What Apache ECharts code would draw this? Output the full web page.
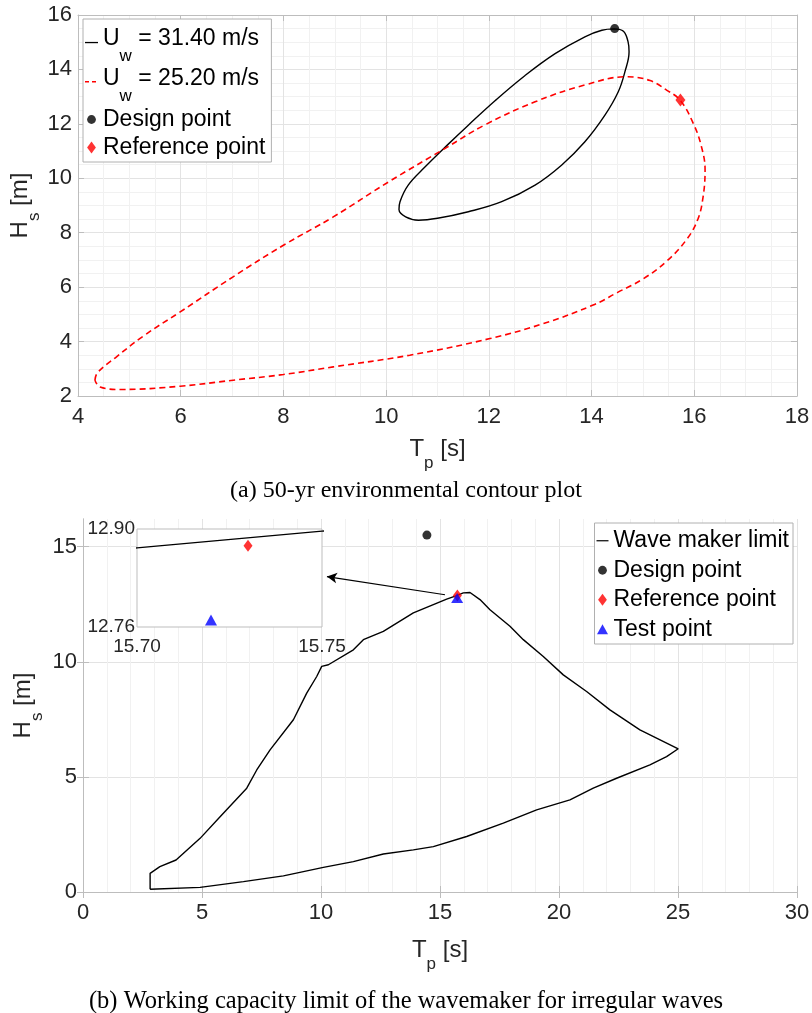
<!DOCTYPE html>
<html>
<head>
<meta charset="utf-8">
<script src="https://cdn.jsdelivr.net/npm/echarts@6/dist/echarts.min.js"></script>
<style>
  html, body { margin: 0; padding: 0; background: #fff; }
  #chart { width: 812px; height: 1013px; }
</style>
</head>
<body>
<div id="chart"></div>
<script>
// ---- (a) 50-yr environmental contours: peak period Tp [s] vs significant wave height Hs [m]
const contour3140T = [14.44, 14.62, 14.71, 14.73, 14.65, 14.52, 14.26, 13.87, 13.42, 12.90, 12.25, 11.60, 11.00, 10.63, 10.38, 10.25, 10.27, 10.43, 10.76, 11.18, 11.60, 12.12, 12.70, 13.29, 13.87, 14.20, 14.44];
const contour3140H = [15.49, 15.40, 15.02, 14.65, 13.92, 13.18, 12.32, 11.34, 10.49, 9.75, 9.14, 8.77, 8.53, 8.46, 8.58, 8.85, 9.14, 9.75, 10.42, 11.20, 11.95, 12.85, 13.77, 14.58, 15.20, 15.44, 15.49];

const contour2520T = [4.33, 4.38, 4.75, 5.27, 5.99, 7.02, 8.00, 8.97, 10.05, 11.15, 11.92, 12.90, 13.87, 14.68, 15.14, 15.46, 15.72, 15.98, 16.14, 16.21, 16.17, 16.07, 15.85, 15.46, 15.00, 14.50, 14.03, 13.06, 12.02, 10.46, 8.97, 8.00, 7.02, 5.99, 4.82, 4.43, 4.33];
const contour2520H = [2.58, 2.86, 3.44, 4.20, 5.09, 6.38, 7.54, 8.58, 9.87, 11.10, 11.96, 12.81, 13.43, 13.73, 13.59, 13.24, 12.88, 12.02, 11.16, 10.30, 9.30, 8.50, 7.75, 6.95, 6.30, 5.80, 5.34, 4.66, 4.11, 3.50, 3.07, 2.79, 2.58, 2.36, 2.24, 2.33, 2.58];

const designPoint = [14.45, 15.50];
const referencePoint = [15.73, 12.876];
const testPoint = [15.72, 12.77];

// ---- (b) wave maker working limit for irregular waves (closed outline)
const waveLimitT = [2.82, 2.82, 3.23, 3.91, 4.92, 5.76, 6.88, 7.30, 7.86, 8.84, 9.40, 9.82, 10.03, 10.31, 11.36, 11.78, 12.62, 13.88, 14.72, 15.28, 15.70, 15.75, 15.98, 16.26, 16.68, 17.10, 17.94, 18.50, 19.34, 20.18, 21.16, 22.14, 23.40, 25.01, 24.52, 23.82, 22.42, 21.44, 20.46, 19.06, 17.66, 16.12, 14.72, 13.88, 12.62, 11.36, 10.10, 8.42, 6.74, 4.92, 2.82];
const waveLimitH = [0.12, 0.81, 1.10, 1.39, 2.33, 3.27, 4.51, 5.30, 6.17, 7.48, 8.64, 9.36, 9.80, 9.87, 10.52, 10.96, 11.32, 12.12, 12.48, 12.72, 12.873, 12.897, 12.99, 13.01, 12.70, 12.26, 11.54, 10.96, 10.23, 9.43, 8.71, 7.91, 7.04, 6.22, 5.88, 5.52, 4.94, 4.51, 4.00, 3.57, 2.99, 2.41, 1.97, 1.83, 1.65, 1.32, 1.07, 0.70, 0.45, 0.20, 0.12];

// zoom-in window and the arrow pointing to it (data units of panel b)
const insetT = [15.70, 15.75];
const insetH = [12.76, 12.90];
const arrowFrom = [15.21, 12.91];
const arrowTo = [10.25, 13.70];

// axis ranges [min, max, interval]
const ticksTa = [4, 18, 2];
const ticksHa = [2, 16, 2];
const ticksTb = [0, 30, 5];
const ticksHb = [0, 16.2, 5];
const labelsHb = [0, 5, 10, 15];

const pairs = (xs, ys) => xs.map((x, i) => [x, ys[i]]);

const FONT = 'Liberation Sans, Arial, Helvetica, sans-serif';
const SERIF = '"Liberation Serif", "Times New Roman", serif';
const AXIS_COLOR = '#bdbdbd';
const TEXT_COLOR = '#262626';
const MAJOR = '#e3e3e3';
const MINOR = '#f1f1f1';

// legend glyphs; the corner moves fix the icon frame so shapes keep their drawn size
const framed = (d, w) => 'path://' + d + ' M0,0 L0,0 M' + w + ',12 L' + w + ',12';
const ICON_LINE_A = framed('M0,9.4 L13,9.4 L13,10.7 L0,10.7 Z', 13);
const ICON_DASH_A = framed('M0,8 L4,8 L4,9.5 L0,9.5 Z M7,8 L11,8 L11,9.5 L7,9.5 Z', 13);
const ICON_CIRCLE_A = framed('M2.1,6 A4.4,4.4 0 1,0 10.9,6 A4.4,4.4 0 1,0 2.1,6 Z', 13);
const ICON_DIAMOND_A = framed('M6.5,0 L10.9,6 L6.5,12 L2.1,6 Z', 13);
const ICON_LINE_B = framed('M0,5.4 L12,5.4 L12,6.6 L0,6.6 Z', 12);
const ICON_CIRCLE_B = framed('M1.6,6 A4.4,4.4 0 1,0 10.4,6 A4.4,4.4 0 1,0 1.6,6 Z', 12);
const ICON_DIAMOND_B = framed('M6,0 L10.4,6 L6,12 L1.6,6 Z', 12);
const ICON_TRIANGLE_B = framed('M0.5,11 L6,1 L11.5,11 Z', 12);

function mainAxis(gridIndex, range, pos, minorSplit, extra) {
  return Object.assign({
    type: 'value', gridIndex, position: pos,
    min: range[0], max: range[1], interval: range[2],
    axisLine: { show: true, lineStyle: { color: AXIS_COLOR, width: 1 } },
    axisTick: { show: true, inside: true, length: 6, lineStyle: { color: AXIS_COLOR } },
    axisLabel: { show: true, color: TEXT_COLOR, fontSize: 22, fontFamily: FONT, margin: 10 },
    splitLine: { show: true, lineStyle: { color: MAJOR, width: 1 } },
    minorTick: { show: false, splitNumber: minorSplit },
    minorSplitLine: { show: true, lineStyle: { color: MINOR, width: 1 } }
  }, extra || {});
}
function mirrorAxis(gridIndex, range, pos) {
  return {
    type: 'value', gridIndex, position: pos,
    min: range[0], max: range[1], interval: range[2],
    axisLine: { show: true, lineStyle: { color: AXIS_COLOR, width: 1 } },
    axisTick: { show: true, inside: true, length: 6, lineStyle: { color: AXIS_COLOR } },
    axisLabel: { show: false },
    splitLine: { show: false }
  };
}

const nameRich = {
  m: { fontSize: 24, fontFamily: FONT, color: TEXT_COLOR, lineHeight: 46, verticalAlign: 'middle' },
  s: { fontSize: 17, fontFamily: FONT, color: TEXT_COLOR, lineHeight: 17, verticalAlign: 'bottom' }
};
const legendRich = {
  m: { fontSize: 23, fontFamily: FONT, color: '#000', lineHeight: 52, verticalAlign: 'middle' },
  s: { fontSize: 17, fontFamily: FONT, color: '#000', lineHeight: 17, verticalAlign: 'bottom' }
};

const NAME_31 = 'Uw = 31.40 m/s';
const NAME_25 = 'Uw = 25.20 m/s';

const option = {
  animation: false,
  backgroundColor: '#ffffff',
  grid: [
    { left: 78, right: 15, top: 15, bottom: 617, containLabel: false, outerBoundsMode: 'none' },
    { left: 83, right: 15, top: 519, bottom: 121, containLabel: false, outerBoundsMode: 'none' },
    { left: 137, top: 529, width: 185, height: 98, show: true, backgroundColor: '#ffffff', borderColor: AXIS_COLOR, borderWidth: 1, z: 3, containLabel: false, outerBoundsMode: 'none' }
  ],
  xAxis: [
    mainAxis(0, ticksTa, 'bottom', 4, {
      name: '{m|T}{s|p}{m| [s]}', nameLocation: 'middle', nameGap: 30, nameMoveOverlap: false,
      nameTextStyle: { rich: nameRich }
    }),
    mirrorAxis(0, ticksTa, 'top'),
    mainAxis(1, ticksTb, 'bottom', 5, {
      name: '{m|T}{s|p}{m| [s]}', nameLocation: 'middle', nameGap: 35, nameMoveOverlap: false,
      nameTextStyle: { rich: nameRich }
    }),
    mirrorAxis(1, ticksTb, 'top'),
    {
      type: 'value', gridIndex: 2, min: insetT[0], max: insetT[1], position: 'bottom',
      axisLine: { show: false }, axisTick: { show: false }, splitLine: { show: false },
      axisLabel: { show: true, customValues: insetT, formatter: v => v.toFixed(2), color: TEXT_COLOR, fontSize: 19, fontFamily: FONT, margin: 10 }
    }
  ],
  yAxis: [
    mainAxis(0, ticksHa, 'left', 4, {
      name: '{m|H}{s|s}{m| [m]}', nameLocation: 'middle', nameGap: 35, nameRotate: 90, nameMoveOverlap: false,
      nameTextStyle: { rich: nameRich }, axisLabel: { show: true, color: TEXT_COLOR, fontSize: 22, fontFamily: FONT, margin: 6 }
    }),
    mirrorAxis(0, ticksHa, 'right'),
    mainAxis(1, [ticksHb[0], ticksHb[1], 1], 'left', 1, {
      name: '{m|H}{s|s}{m| [m]}', nameLocation: 'middle', nameGap: 37, nameRotate: 90, nameMoveOverlap: false,
      nameTextStyle: { rich: nameRich },
      splitLine: { show: true, lineStyle: { color: MINOR, width: 1 } },
      minorSplitLine: { show: false },
      axisTick: { show: true, inside: true, length: 6, customValues: labelsHb, lineStyle: { color: AXIS_COLOR } },
      axisLabel: { show: true, customValues: labelsHb, color: TEXT_COLOR, fontSize: 22, fontFamily: FONT, margin: 6 }
    }),
    Object.assign(mirrorAxis(1, ticksHb, 'right'), {
      splitLine: { show: true, lineStyle: { color: MAJOR, width: 1 } },
      axisTick: { show: true, inside: true, length: 6, customValues: labelsHb, lineStyle: { color: AXIS_COLOR } }
    }),
    {
      type: 'value', gridIndex: 2, min: insetH[0], max: insetH[1], position: 'left',
      axisLine: { show: false }, axisTick: { show: false }, splitLine: { show: false },
      axisLabel: { show: true, customValues: insetH, formatter: v => v.toFixed(2), color: TEXT_COLOR, fontSize: 19, fontFamily: FONT, margin: 2 }
    }
  ],
  legend: [
    {
      left: 83, top: 19, orient: 'vertical', itemGap: 3,
      padding: [8, 6, 1, 2], itemWidth: 13, itemHeight: 12,
      backgroundColor: '#ffffff', borderColor: '#b0b0b0', borderWidth: 1,
      selectedMode: false,
      textStyle: { fontSize: 23, fontFamily: FONT, color: '#000', rich: legendRich },
      formatter: name => {
        if (name === NAME_31) return '{m|U}{s|w}{m| = 31.40 m/s}';
        if (name === NAME_25) return '{m|U}{s|w}{m| = 25.20 m/s}';
        return name;
      },
      data: [
        { name: NAME_31, icon: ICON_LINE_A },
        { name: NAME_25, icon: ICON_DASH_A },
        { name: 'Design point', icon: ICON_CIRCLE_A, textStyle: { lineHeight: 22 } },
        { name: 'Reference point', icon: ICON_DIAMOND_A, textStyle: { lineHeight: 27 } }
      ]
    },
    {
      right: 19, top: 523, orient: 'vertical', itemGap: 0,
      padding: [3, 4, 0, 2], itemWidth: 12, itemHeight: 12,
      backgroundColor: '#ffffff', borderColor: '#b0b0b0', borderWidth: 1,
      selectedMode: false,
      textStyle: { fontSize: 23, fontFamily: FONT, color: '#000', lineHeight: 29.5 },
      data: [
        { name: 'Wave maker limit', icon: ICON_LINE_B },
        { name: 'Design point', icon: ICON_CIRCLE_B },
        { name: 'Reference point', icon: ICON_DIAMOND_B },
        { name: 'Test point', icon: ICON_TRIANGLE_B }
      ]
    }
  ],
  series: [
    {
      name: NAME_31, type: 'line', xAxisIndex: 0, yAxisIndex: 0,
      data: pairs(contour3140T, contour3140H), smooth: 0.4, symbol: 'path://M0,0', showSymbol: false,
      lineStyle: { color: '#000', width: 1.4 }, itemStyle: { color: '#000' }, z: 3
    },
    {
      name: NAME_25, type: 'line', xAxisIndex: 0, yAxisIndex: 0,
      data: pairs(contour2520T, contour2520H), smooth: 0.4, symbol: 'path://M0,0', showSymbol: false,
      lineStyle: { color: '#ff0000', width: 1.6, type: [6, 4] }, itemStyle: { color: '#ff0000' }, z: 3
    },
    {
      name: 'Design point', type: 'scatter', xAxisIndex: 0, yAxisIndex: 0,
      data: [designPoint], symbol: 'circle', symbolSize: 9,
      itemStyle: { color: '#000' }, z: 4
    },
    {
      name: 'Reference point', type: 'scatter', xAxisIndex: 0, yAxisIndex: 0,
      data: [referencePoint], symbol: 'diamond', symbolSize: [10, 13],
      itemStyle: { color: '#ff0000' }, z: 4
    },
    {
      name: 'Wave maker limit', type: 'line', xAxisIndex: 2, yAxisIndex: 2,
      data: pairs(waveLimitT, waveLimitH), symbol: 'path://M0,0', showSymbol: false,
      lineStyle: { color: '#000', width: 1.4 }, itemStyle: { color: '#000' }, z: 3,
      markLine: {
        silent: true, symbol: ['none', 'arrow'], symbolSize: [8, 10],
        label: { show: false },
        lineStyle: { color: '#000', width: 1.2, type: 'solid' },
        data: [[{ coord: arrowFrom }, { coord: arrowTo }]]
      }
    },
    {
      name: 'Design point', type: 'scatter', xAxisIndex: 2, yAxisIndex: 2,
      data: [designPoint], symbol: 'circle', symbolSize: 9,
      itemStyle: { color: '#000' }, z: 4
    },
    {
      name: 'Reference point', type: 'scatter', xAxisIndex: 2, yAxisIndex: 2,
      data: [referencePoint], symbol: 'diamond', symbolSize: [9, 12],
      itemStyle: { color: '#ff0000' }, z: 4
    },
    {
      name: 'Test point', type: 'scatter', xAxisIndex: 2, yAxisIndex: 2,
      data: [testPoint], symbol: 'triangle', symbolSize: [12, 10],
      itemStyle: { color: '#0000ff' }, z: 5
    },
    {
      name: 'Wave maker limit', type: 'line', xAxisIndex: 4, yAxisIndex: 4,
      data: pairs(waveLimitT, waveLimitH), symbol: 'path://M0,0', showSymbol: false, clip: true,
      lineStyle: { color: '#000', width: 1.4 }, itemStyle: { color: '#000' }, z: 6
    },
    {
      name: 'Reference point', type: 'scatter', xAxisIndex: 4, yAxisIndex: 4,
      data: [referencePoint], symbol: 'diamond', symbolSize: [9, 12],
      itemStyle: { color: '#ff0000' }, z: 6
    },
    {
      name: 'Test point', type: 'scatter', xAxisIndex: 4, yAxisIndex: 4,
      data: [testPoint], symbol: 'triangle', symbolSize: [12, 11],
      itemStyle: { color: '#0000ff' }, z: 6
    }
  ],
  graphic: [
    {
      type: 'text', left: 'center', top: 479,
      style: { text: '(a) 50-yr environmental contour plot', font: '24px ' + SERIF, fill: '#000' }
    },
    {
      type: 'text', left: 'center', top: 989,
      style: { text: '(b) Working capacity limit of the wavemaker for irregular waves', font: '24.5px ' + SERIF, fill: '#000' }
    }
  ]
};

const chart = echarts.init(document.getElementById('chart'), null, { renderer: 'canvas' });
chart.setOption(option);
</script>
</body>
</html>
